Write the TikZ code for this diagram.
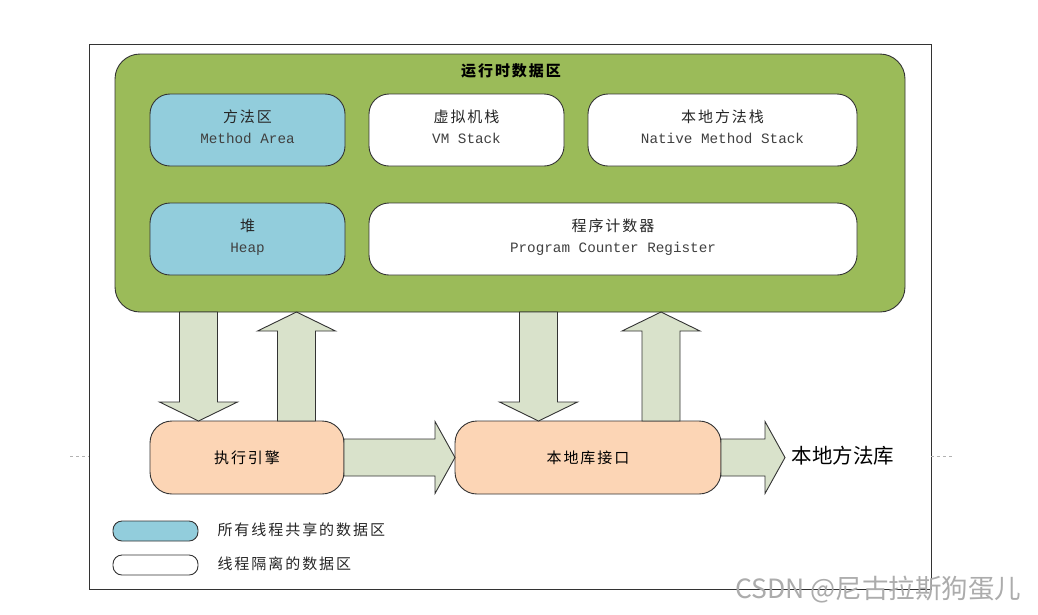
\documentclass[tikz,border=0pt]{standalone}
\usepackage{fontspec}
\setmainfont{Liberation Sans}
\setmonofont{Liberation Mono}
\newfontfamily\cjk{Noto Sans CJK SC}
\newfontfamily\cjksp[LetterSpace=13]{Noto Sans CJK SC}
\usetikzlibrary{calc}
\definecolor{areagreen}{HTML}{9BBB59}
\definecolor{sharedblue}{HTML}{92CDDC}
\definecolor{peach}{HTML}{FCD5B5}
\definecolor{arrowfill}{HTML}{D9E2CB}
\definecolor{edgegray}{HTML}{333333}
\tikzset{
  region/.style={draw=edgegray, line width=0.9pt, rounded corners=20pt, inner sep=0pt, align=center, font=\cjksp\fontsize{15}{21}\selectfont, text=black!85},
  shared/.style={region, fill=sharedblue},
  private/.style={region, fill=white},
  engine/.style={draw=edgegray, line width=0.9pt, rounded corners=22pt, fill=peach, inner sep=0pt, font=\cjksp\fontsize{15}{18}\selectfont},
  fat/.style={draw=edgegray, line width=0.9pt, fill=arrowfill, line join=miter},
  legendtext/.style={anchor=west, font=\cjksp\fontsize{15}{18}\selectfont, text=black!85},
  lbl/.style={align=center, font=\cjksp\fontsize{15}{21}\selectfont, text=black!85},
}
\newcommand\en[1]{\\{\ttfamily\fontsize{14.3}{16}\selectfont\color{black!75}#1}}
% fat arrows
\newcommand\fatdown[3]{\draw[fat] (#1-19,#2) -- (#1+19,#2) -- (#1+19,#3-19) -- (#1+39,#3-19) -- (#1,#3) -- (#1-39,#3-19) -- (#1-19,#3-19) -- cycle;}
\newcommand\fatup[3]{\draw[fat] (#1-19,#2) -- (#1+19,#2) -- (#1+19,#3+19) -- (#1+39,#3+19) -- (#1,#3) -- (#1-39,#3+19) -- (#1-19,#3+19) -- cycle;}
\newcommand\fatright[3]{\draw[fat] (#2,#1-18.5) -- (#3-20,#1-18.5) -- (#3-20,#1-36) -- (#3,#1) -- (#3-20,#1+36) -- (#3-20,#1+18.5) -- (#2,#1+18.5) -- cycle;}
\begin{document}
\begin{tikzpicture}[x=1pt,y=-1pt]
\useasboundingbox (0,0) rectangle (1038,614);
\fill[white] (0,0) rectangle (1038,614);
% outer frame
\draw[edgegray, line width=0.8pt] (89,44) rectangle (931,589);
\draw[gray!60, dashed, line width=0.6pt] (70,456) -- (89,456);
\draw[gray!60, dashed, line width=0.6pt] (931,456) -- (952,456);
% runtime data area
\node[draw=edgegray, line width=0.9pt, fill=areagreen, rounded corners=25pt, minimum width=790pt, minimum height=258pt, inner sep=0pt] (rt) at (510,183) {};
\node[font=\cjksp\bfseries\fontsize{15}{18}\selectfont] (rttitle) at (511,71) {运行时数据区};
\node[shared, minimum width=195pt, minimum height=72pt] (method) at (247.5,130) {};
\node[private, minimum width=195pt, minimum height=72pt] (vmstack) at (466.5,130) {};
\node[private, minimum width=269pt, minimum height=72pt] (native) at (722.5,130) {};
\node[shared, minimum width=195pt, minimum height=72pt] (heap) at (247.5,239) {};
\node[private, minimum width=488pt, minimum height=72pt] (pc) at (613,239) {};
\node[lbl] (methodt) at ($(method)+(0,-3)$) {方法区\en{Method Area}};
\node[lbl] (vmstackt) at ($(vmstack)+(0,-3)$) {虚拟机栈\en{VM Stack}};
\node[lbl] (nativet) at ($(native)+(0,-3)$) {本地方法栈\en{Native Method Stack}};
\node[lbl] (heapt) at ($(heap)+(0,-2)$) {堆\en{Heap}};
\node[lbl] (pct) at ($(pc)+(0,-2)$) {程序计数器\en{Program Counter Register}};
% engine row
\node[engine, minimum width=194pt, minimum height=73pt] (exec) at (247,457.5) {执行引擎};
\node[engine, minimum width=266pt, minimum height=73pt] (jni) at (588,457.5) {本地库接口};
\node[anchor=west, font=\cjk\fontsize{20.5}{24}\selectfont] (lib) at (788,456) {本地方法库};
% fat arrows
\fatdown{198.5}{312}{421}
\fatup{296.5}{421}{312}
\fatdown{538.5}{312}{421}
\fatup{661}{421}{312}
\fatright{457.5}{344}{455}
\fatright{457.5}{721}{785}
% legend
\node[draw=edgegray, line width=0.9pt, fill=sharedblue, rounded corners=9pt, minimum width=85pt, minimum height=20pt, inner sep=0pt] (legshared) at (155.5,531) {};
\node[draw=edgegray, line width=0.9pt, fill=white, rounded corners=9pt, minimum width=85pt, minimum height=20pt, inner sep=0pt] (legprivate) at (155.5,565) {};
\node[legendtext] (legsharedtext) at (214,530) {所有线程共享的数据区};
\node[legendtext] (legprivatetext) at (214,564) {线程隔离的数据区};
% watermark
\node[anchor=east, font=\cjk\fontsize{26.5}{30}\selectfont, text=gray!65] (mark) at (1025,590) {CSDN @尼古拉斯狗蛋儿};
\end{tikzpicture}
\end{document}
